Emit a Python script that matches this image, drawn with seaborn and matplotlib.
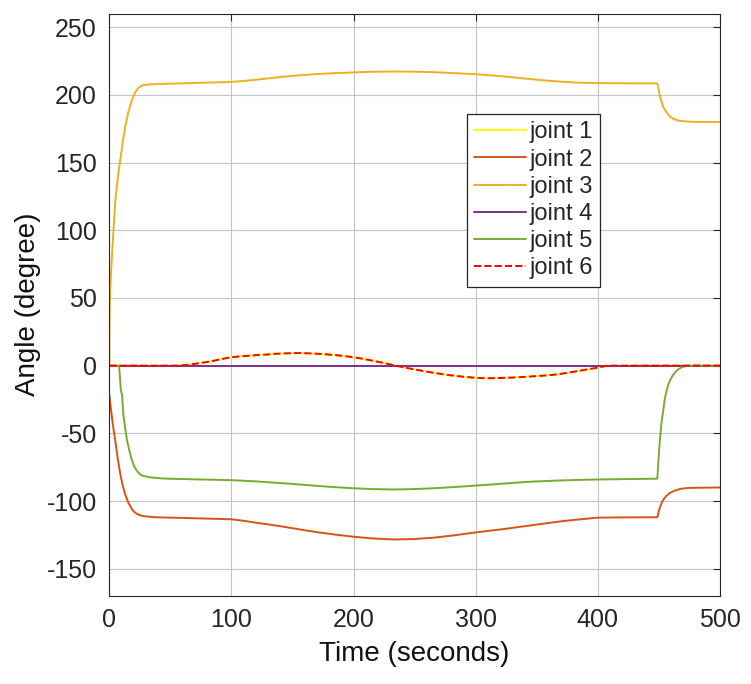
import matplotlib
matplotlib.use("Agg")
import matplotlib.pyplot as plt
import seaborn as sns

# ---------------- data ----------------
t_j3 = [0, 0.3, 1, 2, 3.5, 5, 7, 9, 11, 13, 15.5, 18.5, 21, 23.7, 26, 28, 33, 45,
        70, 100, 110, 120, 131, 142, 156, 170, 185, 200, 216, 232, 248, 265, 282,
        300, 313, 325, 337, 348, 359, 370, 380, 388, 400, 448.7, 449.5, 450.3, 452,
        453.6, 456, 459, 462, 466, 472, 478, 500]
v_j3 = [0, 43, 60, 78, 101, 122, 139, 152, 165, 176, 187, 196, 201.5, 205, 206.5,
        207.2, 207.8, 208.2, 208.8, 209.6, 210.3, 211.2, 212.3, 213.4, 214.5, 215.4,
        216.1, 216.6, 217.1, 217.3, 217.2, 216.8, 216.1, 215.3, 214.4, 213.5, 212.4,
        211.4, 210.5, 209.8, 209.2, 208.9, 208.7, 208.5, 205, 201, 195.5, 191, 187.5,
        184, 182.3, 181, 180.4, 180.1, 180]

t_j2 = [0, 1.5, 3, 5, 7, 9, 11, 13, 15.5, 18.5, 21, 23.7, 27, 30, 37.6, 60, 80,
        100, 110, 120, 131, 142.6, 156, 170, 185, 200, 216, 232.8, 249, 265.6, 282,
        300, 313, 325, 337, 347.6, 359, 370, 380, 388.5, 400, 420, 448.7, 449.5,
        450.3, 452, 453.6, 456, 459, 463, 467.6, 475, 500]
v_j2 = [-21, -33, -44, -56, -69, -80, -88.5, -95, -101, -106, -108.5, -110, -111,
        -111.4, -112, -112.5, -113, -113.5, -114.6, -116, -117.4, -119, -121, -123,
        -124.8, -126.4, -127.7, -128.4, -128.1, -127.1, -125.4, -123.2, -121.8,
        -120.5, -119, -117.7, -116.3, -115, -114, -113.3, -112.3, -112.1, -112,
        -109, -106, -102, -99, -96.3, -94, -92.3, -91, -90.3, -90]

t_j5 = [0, 8, 9.5, 10.5, 11.5, 13, 14.5, 16.5, 18.5, 21, 23.7, 26, 28, 33, 44, 70,
        100, 120, 131, 142.6, 156, 170, 185, 200, 216, 232.8, 249, 265.6, 282, 300,
        313, 325, 337, 347.6, 359, 370, 385, 400, 448.7, 450.3, 452, 455, 457, 459,
        461.5, 464.5, 468, 473, 500]
v_j5 = [0, 0, -18, -22, -36, -46, -55, -63, -70, -75.5, -79, -80.8, -81.5, -82.5,
        -83.4, -84, -84.6, -85.5, -86.2, -86.9, -87.8, -88.8, -89.8, -90.6, -91.2,
        -91.5, -91.2, -90.6, -89.7, -88.6, -87.8, -87, -86.2, -85.6, -85.2, -84.8,
        -84.4, -84.1, -83.5, -60.5, -43, -23.5, -16, -11, -7, -3.7, -1.5, 0, 0]

t_j16 = [0, 55, 62, 70, 78, 85, 92, 100, 108, 115, 122, 129, 135, 142, 149, 156,
         163, 170, 177, 185, 192, 200, 206, 212, 218, 224.6, 229, 233, 237, 241,
         247, 253, 259, 265.6, 272, 280, 285, 290, 295, 300, 305, 310, 315, 320,
         330, 340, 350, 361, 368, 375, 383, 390, 395, 400, 404, 408, 500]
v_j16 = [0, 0, 0.4, 1.3, 2.4, 3.5, 4.9, 6.2, 6.9, 7.4, 7.9, 8.2, 8.7, 9, 9.2, 9.3,
         9.1, 8.8, 8.4, 7.8, 7.1, 6.2, 5.3, 4.3, 3.2, 2, 1.1, 0.3, -0.5, -1.2, -2.3,
         -3.3, -4.3, -5.3, -6.2, -7.2, -7.7, -8.2, -8.6, -9, -9.2, -9.3, -9.25,
         -9.1, -8.8, -8.3, -7.7, -7, -6.3, -5.3, -4.1, -3, -2.2, -1.5, -0.7, 0, 0]

t_j4 = [0, 500]
v_j4 = [0, 0]

labels = ["joint 1", "joint 2", "joint 3", "joint 4", "joint 5", "joint 6"]
colors = ["#FFFF00", "#D95319", "#EDB120", "#7E2F8E", "#77AC30", "#FF0000"]
x_ticks = [0, 100, 200, 300, 400, 500]
y_ticks = [-150, -100, -50, 0, 50, 100, 150, 200, 250]

# ---------------- plotting ----------------
sns.set_theme(style="white")
plt.rcParams["font.family"] = ["Liberation Sans", "DejaVu Sans"]
plt.rcParams["axes.unicode_minus"] = False

fig = plt.figure(figsize=(7.51, 6.84), dpi=100)
ax = fig.add_axes([0.1455, 0.129, 0.8132, 0.851])

series = [
    (t_j16, v_j16, "-"),
    (t_j2, v_j2, "-"),
    (t_j3, v_j3, "-"),
    (t_j4, v_j4, "-"),
    (t_j5, v_j5, "-"),
    (t_j16, v_j16, "--"),
]
for (tx, vy, ls), lab, col in zip(series, labels, colors):
    sns.lineplot(x=tx, y=vy, ax=ax, color=col, linestyle=ls, linewidth=1.4,
                 label=lab, sort=False, estimator=None)

ax.set_xlim(0, 500)
ax.set_ylim(-170, 260)
ax.set_xticks(x_ticks)
ax.set_yticks(y_ticks)
ax.grid(True, color="#c4c4c4", linewidth=0.8)
ax.set_axisbelow(True)

for sp in ax.spines.values():
    sp.set_color("#262626")
    sp.set_linewidth(0.8)
ax.tick_params(direction="in", length=5, width=0.8, color="#262626",
               top=True, right=True, labelsize=18, labelcolor="#262626", pad=9)

ax.set_xlabel("Time (seconds)", fontsize=20, color="#111111", labelpad=6)
ax.set_ylabel("Angle (degree)", fontsize=20, color="#111111", labelpad=4)

leg = ax.legend(loc="upper left", bbox_to_anchor=(0.586, 0.827), borderaxespad=0,
                fontsize=17, frameon=True, fancybox=False, framealpha=1,
                edgecolor="#262626", labelspacing=0.22, handlelength=2.2,
                handletextpad=0.15, borderpad=0.3)
leg.get_frame().set_linewidth(0.9)

fig.savefig("out.png", dpi=100, facecolor="white")
